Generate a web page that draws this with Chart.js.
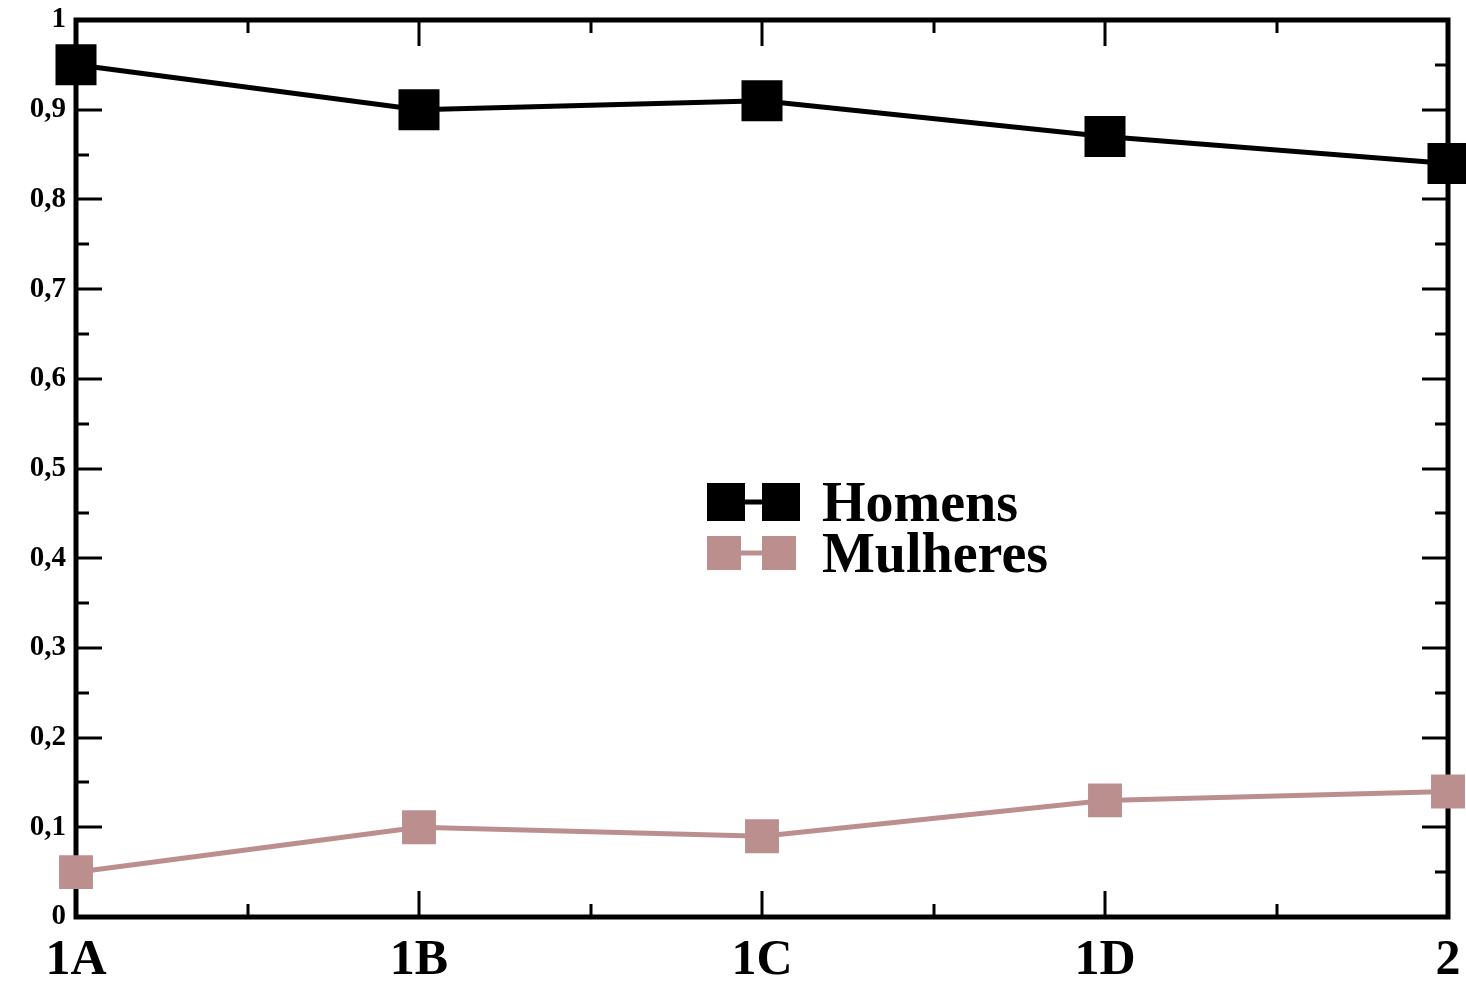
<!DOCTYPE html>
<html>
<head>
<meta charset="utf-8">
<script src="https://cdn.jsdelivr.net/npm/chart.js@4/dist/chart.umd.min.js"></script>
<style>
  html, body { margin: 0; padding: 0; background: #fff; }
  #wrap { width: 1466px; height: 986px; position: relative; }
</style>
</head>
<body>
<div id="wrap"><canvas id="c"></canvas></div>
<script>
// categories and series
var categories = ["1A", "1B", "1C", "1D", "2"];
var homens = [0.95, 0.90, 0.91, 0.87, 0.84];
var mulheres = [0.05, 0.10, 0.09, 0.13, 0.14];
var seriesNames = ["Homens", "Mulheres"];

var SERIF = "'Liberation Serif', 'DejaVu Serif', serif";
var ROSE = "#bc8f8f";

// frame with inward ticks on all four sides (drawn before the lines)
var framePlugin = {
        id: "frame",
        beforeDatasetsDraw: function(chart)
        {
                var ctx = chart.ctx;
                var a = chart.chartArea;
                var x = chart.scales.x, y = chart.scales.y;
                ctx.save();
                ctx.strokeStyle = "#000";
                ctx.lineWidth = 3;
                ctx.beginPath();
                // y ticks, major 0.1 / minor 0.05
                for (var i = 0; i <= 20; i++)
                {
                        var py = Math.round(y.getPixelForValue(i * 0.05));
                        var len = (i % 2 === 0) ? 26 : 13;
                        ctx.moveTo(a.left, py); ctx.lineTo(a.left + len, py);
                        ctx.moveTo(a.right, py); ctx.lineTo(a.right - len, py);
                }
                // x ticks, major on categories, minor halfway
                for (var j = 0; j <= (categories.length - 1) * 2; j++)
                {
                        var px = Math.round(x.getPixelForValue(j / 2));
                        var l2 = (j % 2 === 0) ? 26 : 13;
                        ctx.moveTo(px, a.bottom); ctx.lineTo(px, a.bottom - l2);
                        ctx.moveTo(px, a.top); ctx.lineTo(px, a.top + l2);
                }
                ctx.stroke();
                ctx.lineWidth = 5;
                ctx.strokeRect(a.left, a.top, a.right - a.left, a.bottom - a.top);
                ctx.restore();
        }
};

// legend in the grace style: marker - line - marker, then the name
var legendPlugin = {
        id: "graceLegend",
        afterDatasetsDraw: function(chart)
        {
                var ctx = chart.ctx;
                var left = 707, rowY = [502, 553];
                ctx.save();
                chart.data.datasets.forEach(function(ds, k)
                {
                        var cy = rowY[k];
                        var half = k === 0 ? 19 : 17;
                        ctx.strokeStyle = ds.borderColor;
                        ctx.lineWidth = ds.borderWidth;
                        ctx.beginPath();
                        ctx.moveTo(left + half, cy); ctx.lineTo(left + 74, cy);
                        ctx.stroke();
                        ctx.fillStyle = ds.pointBackgroundColor;
                        ctx.fillRect(left, cy - half, 2 * half, 2 * half);
                        ctx.fillRect(left + 55, cy - half, 2 * half, 2 * half);
                        ctx.fillStyle = "#000";
                        ctx.font = "bold 56px " + SERIF;
                        ctx.textBaseline = "alphabetic";
                        ctx.fillText(ds.label, 822, cy + 19);
                });
                ctx.restore();
        }
};

var chart = new Chart(document.getElementById("c"), {
        type: "line",
        data: {
                labels: categories,
                datasets: [
                        {
                                label: seriesNames[0],
                                data: homens,
                                borderColor: "#000",
                                backgroundColor: "#000",
                                pointBackgroundColor: "#000",
                                pointBorderWidth: 0,
                                borderWidth: 5,
                                pointStyle: "rect",
                                pointRadius: 29,
                                tension: 0,
                                clip: false
                        },
                        {
                                label: seriesNames[1],
                                data: mulheres,
                                borderColor: ROSE,
                                backgroundColor: ROSE,
                                pointBackgroundColor: ROSE,
                                pointBorderWidth: 0,
                                borderWidth: 5,
                                pointStyle: "rect",
                                pointRadius: 24,
                                tension: 0,
                                clip: false
                        }
                ]
        },
        options: {
                responsive: true,
                maintainAspectRatio: false,
                animation: false,
                layout: { autoPadding: false, padding: { top: 20, right: 18, left: 0, bottom: 0 } },
                plugins: {
                        legend: { display: false },
                        tooltip: { enabled: false }
                },
                scales: {
                        x: {
                                type: "category",
                                offset: false,
                                grid: { display: false, drawTicks: false },
                                border: { display: false },
                                ticks: {
                                        color: "#000",
                                        font: { family: SERIF, size: 50, weight: "bold" },
                                        padding: 14,
                                        autoSkip: false,
                                        maxRotation: 0
                                },
                                afterFit: function(s)
                                {
                                        s.height = 69;
                                        s.paddingLeft = 0;
                                        s.paddingRight = 0;
                                }
                        },
                        y: {
                                min: 0,
                                max: 1,
                                grid: { display: false, drawTicks: false },
                                border: { display: false },
                                ticks: {
                                        stepSize: 0.1,
                                        color: "#000",
                                        font: { family: SERIF, size: 29, weight: "bold" },
                                        padding: 10,
                                        callback: function(v)
                                        {
                                                return String(Math.round(v * 10) / 10).replace(".", ",");
                                        }
                                },
                                afterFit: function(s)
                                {
                                        s.width = 76;
                                        s.paddingTop = 0;
                                        s.paddingBottom = 0;
                                }
                        }
                }
        },
        plugins: [framePlugin, legendPlugin]
});
</script>
</body>
</html>
